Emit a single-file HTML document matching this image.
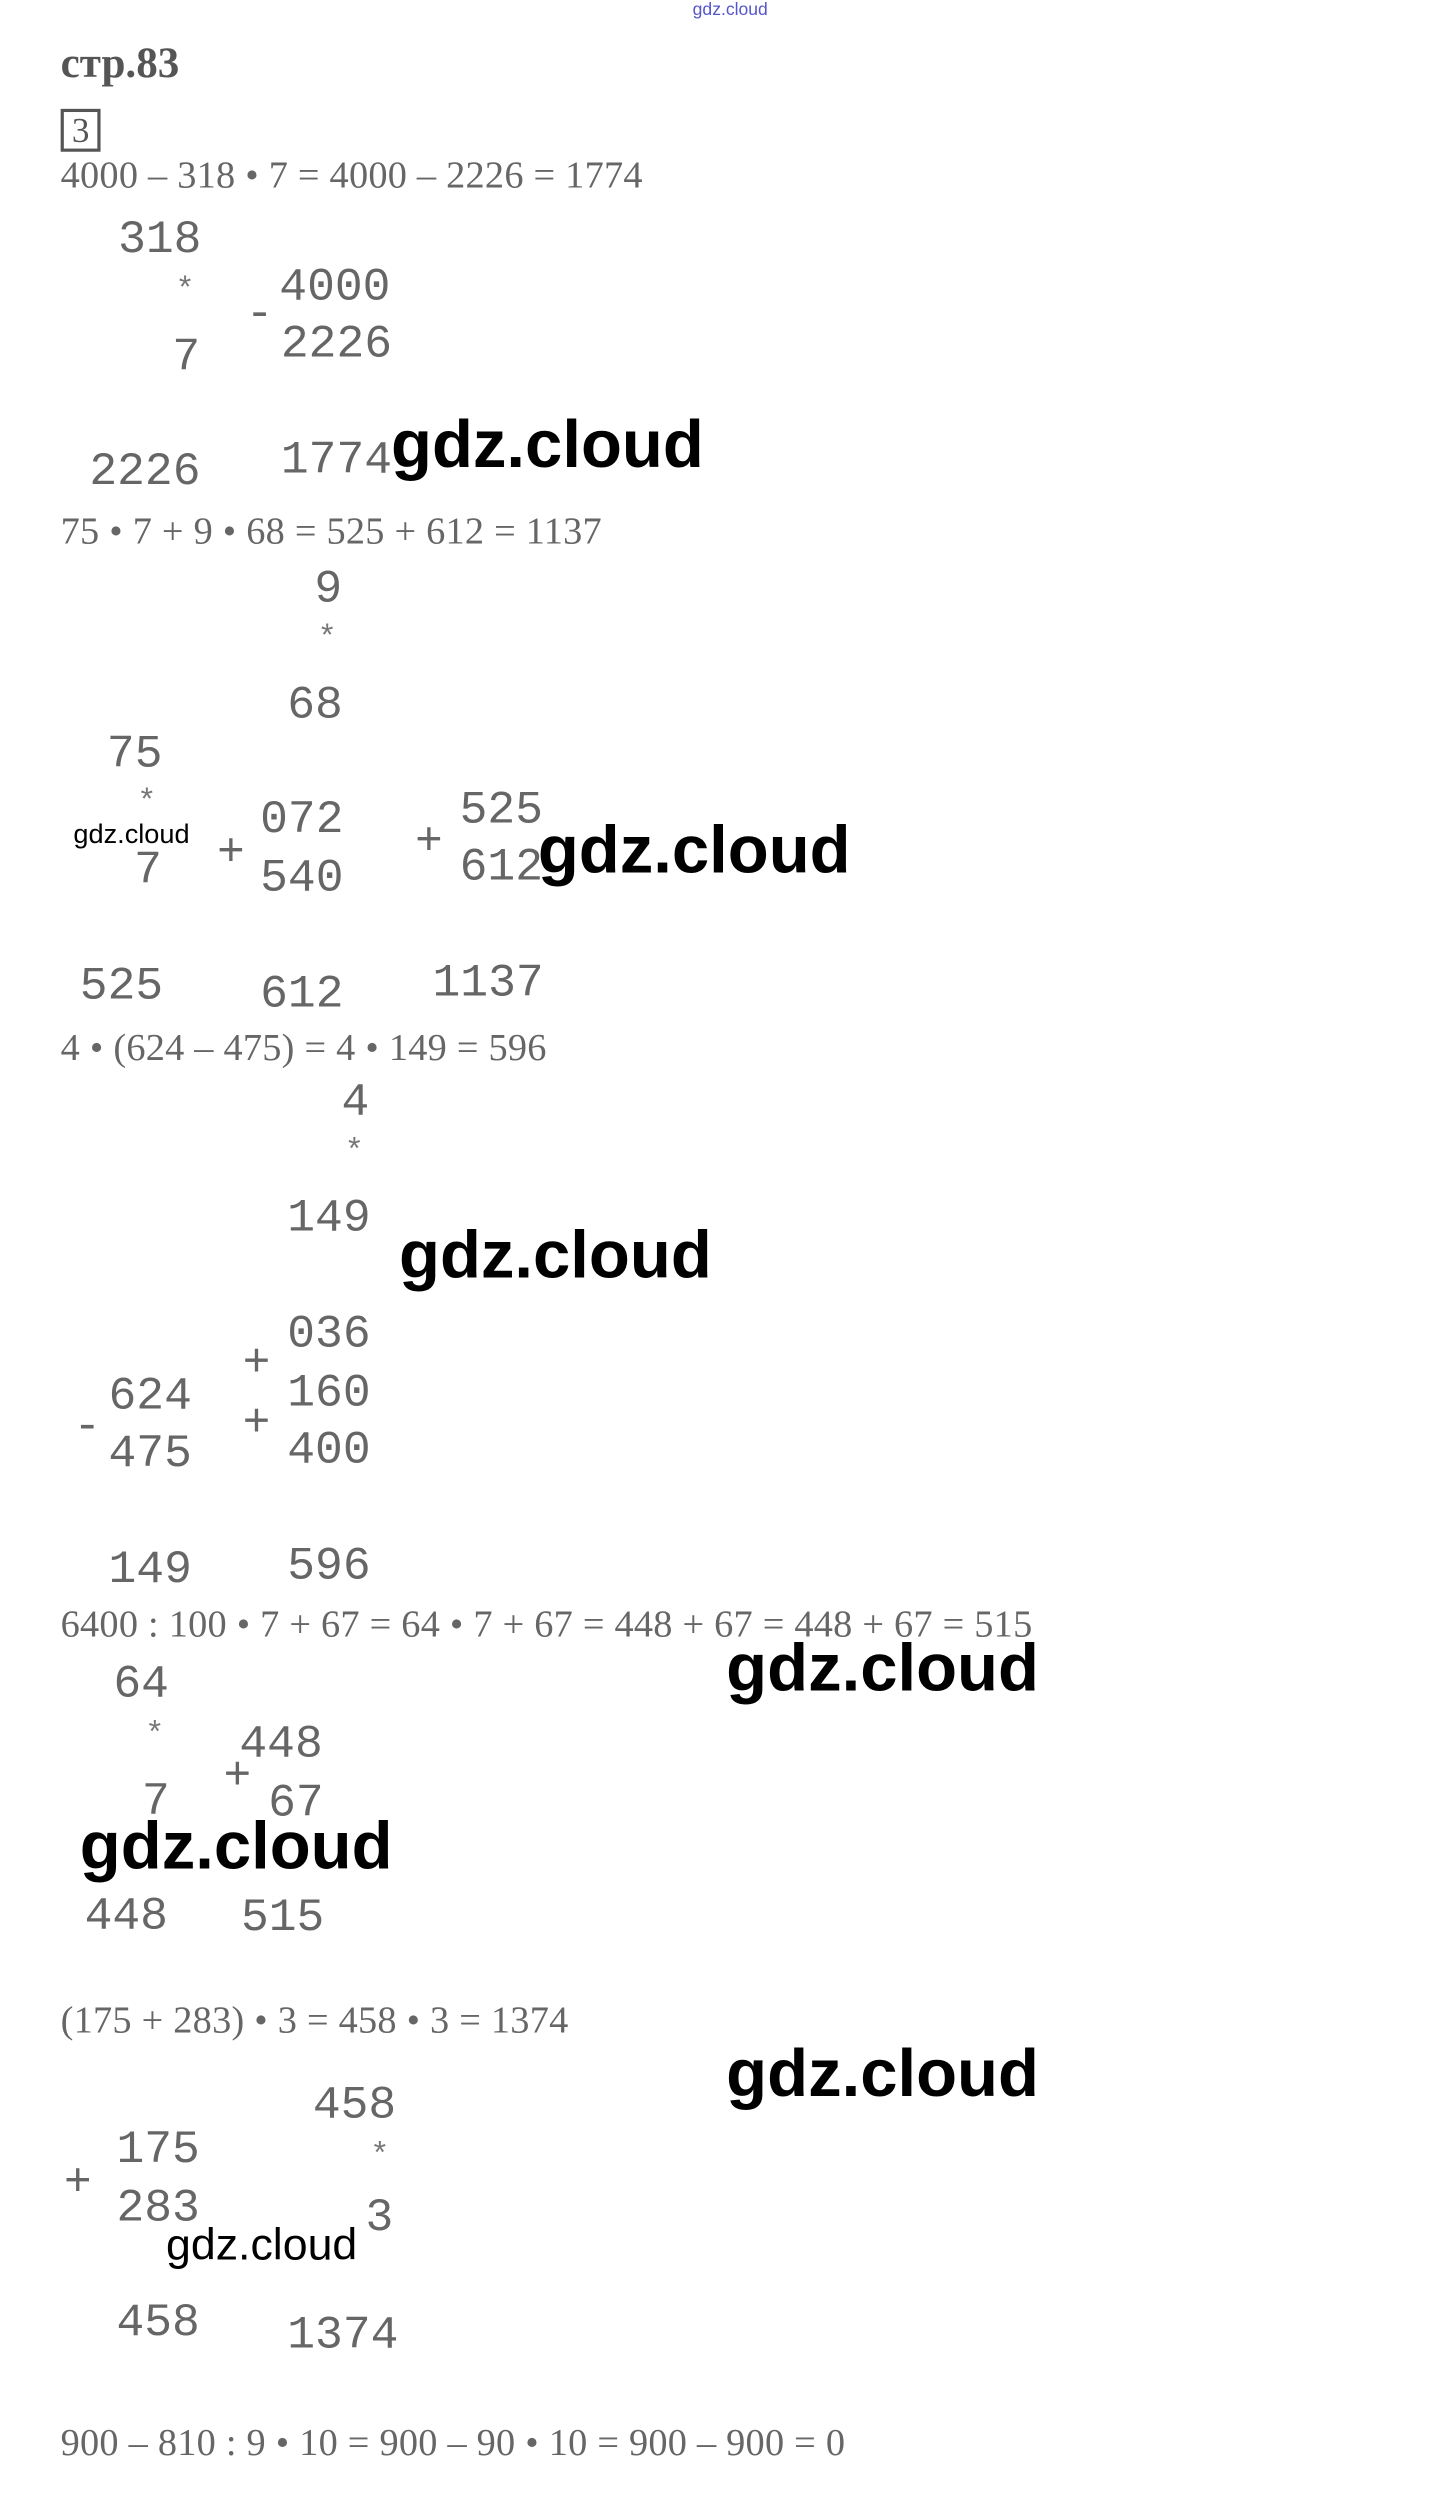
<!DOCTYPE html>
<html><head><meta charset="utf-8"><style>
html,body{margin:0;padding:0;background:#fff;}
body{width:1451px;height:2483px;overflow:hidden;position:relative;}
#w{position:absolute;left:0;top:0;width:910px;height:1570px;transform:scale(1.596,1.589);transform-origin:0 0;}
#w div{position:absolute;white-space:nowrap;line-height:1;transform:translateY(-50%);}
.e{font-family:"Liberation Serif",serif;font-size:24px;color:#666;letter-spacing:0.15px;}
.d{font-family:"Liberation Mono",monospace;font-size:29px;color:#666;}
.s{font-family:"Liberation Mono",monospace;font-size:20px;color:#777;}
.g{font-family:"Liberation Sans",sans-serif;font-weight:bold;font-size:42px;color:#000;}
</style></head><body><div id="w">
<div style="left:434px;top:7px;font-family:'Liberation Sans',sans-serif;font-size:11px;color:#55c;">gdz.cloud</div>
<div style="left:38px;top:40px;font-family:'Liberation Serif',serif;font-weight:bold;font-size:27px;color:#555;">стр.83</div>
<div style="left:38px;top:82px;width:21px;height:23px;border:2px solid #555;font-family:'Liberation Serif',serif;font-size:22px;color:#555;text-align:center;line-height:23px;">3</div>
<div class="e" style="left:38px;top:111px;">4000 – 318 • 7 = 4000 – 2226 = 1774</div>
<div class="d" style="left:74px;top:151px;">318</div>
<div class="s" style="left:110px;top:184px;">*</div>
<div class="d" style="left:108px;top:225px;">7</div>
<div class="d" style="left:175px;top:181px;">4000</div>
<div class="d" style="left:154px;top:198px;">-</div>
<div class="d" style="left:176px;top:217px;">2226</div>
<div class="d" style="left:56px;top:297px;">2226</div>
<div class="d" style="left:176px;top:290px;">1774</div>
<div class="g" style="left:245px;top:280px;">gdz.cloud</div>
<div class="e" style="left:38px;top:335px;">75 • 7 + 9 • 68 = 525 + 612 = 1137</div>
<div class="d" style="left:197px;top:371px;">9</div>
<div class="s" style="left:199px;top:403px;">*</div>
<div class="d" style="left:180px;top:444px;">68</div>
<div class="d" style="left:67px;top:475px;">75</div>
<div class="s" style="left:86px;top:506px;">*</div>
<div style="left:46px;top:525px;font-family:'Liberation Sans',sans-serif;font-size:17px;color:#000;">gdz.cloud</div>
<div class="d" style="left:84px;top:548px;">7</div>
<div class="d" style="left:136px;top:537px;">+</div>
<div class="d" style="left:163px;top:516px;">072</div>
<div class="d" style="left:163px;top:553px;">540</div>
<div class="d" style="left:260px;top:530px;">+</div>
<div class="d" style="left:288px;top:510px;">525</div>
<div class="d" style="left:288px;top:546px;">612</div>
<div class="g" style="left:337px;top:535px;">gdz.cloud</div>
<div class="d" style="left:50px;top:621px;">525</div>
<div class="d" style="left:163px;top:626px;">612</div>
<div class="d" style="left:271px;top:619px;">1137</div>
<div class="e" style="left:38px;top:660px;">4 • (624 – 475) = 4 • 149 = 596</div>
<div class="d" style="left:214px;top:694px;">4</div>
<div class="s" style="left:216px;top:726px;">*</div>
<div class="d" style="left:180px;top:767px;">149</div>
<div class="g" style="left:250px;top:790px;">gdz.cloud</div>
<div class="d" style="left:180px;top:840px;">036</div>
<div class="d" style="left:152px;top:858px;">+</div>
<div class="d" style="left:180px;top:877px;">160</div>
<div class="d" style="left:152px;top:896px;">+</div>
<div class="d" style="left:180px;top:913px;">400</div>
<div class="d" style="left:46px;top:898px;">-</div>
<div class="d" style="left:68px;top:879px;">624</div>
<div class="d" style="left:68px;top:915px;">475</div>
<div class="d" style="left:68px;top:988px;">149</div>
<div class="d" style="left:180px;top:986px;">596</div>
<div class="e" style="left:38px;top:1023px;">6400 : 100 • 7 + 67 = 64 • 7 + 67 = 448 + 67 = 448 + 67 = 515</div>
<div class="g" style="left:455px;top:1050px;">gdz.cloud</div>
<div class="d" style="left:71px;top:1060px;">64</div>
<div class="s" style="left:91px;top:1093px;">*</div>
<div class="d" style="left:150px;top:1098px;">448</div>
<div class="d" style="left:140px;top:1118px;">+</div>
<div class="d" style="left:89px;top:1134px;">7</div>
<div class="d" style="left:168px;top:1135px;">67</div>
<div class="g" style="left:50px;top:1162px;">gdz.cloud</div>
<div class="d" style="left:53px;top:1206px;">448</div>
<div class="d" style="left:151px;top:1207px;">515</div>
<div class="e" style="left:38px;top:1272px;">(175 + 283) • 3 = 458 • 3 = 1374</div>
<div class="g" style="left:455px;top:1305px;">gdz.cloud</div>
<div class="d" style="left:196px;top:1325px;">458</div>
<div class="d" style="left:73px;top:1353px;">175</div>
<div class="s" style="left:232px;top:1358px;">*</div>
<div class="d" style="left:40px;top:1374px;">+</div>
<div class="d" style="left:73px;top:1390px;">283</div>
<div class="d" style="left:229px;top:1396px;">3</div>
<div style="left:104px;top:1413px;font-family:'Liberation Sans',sans-serif;font-size:28px;color:#000;">gdz.cloud</div>
<div class="d" style="left:73px;top:1462px;">458</div>
<div class="d" style="left:180px;top:1470px;">1374</div>
<div class="e" style="left:38px;top:1538px;">900 – 810 : 9 • 10 = 900 – 90 • 10 = 900 – 900 = 0</div>
</div></body></html>
